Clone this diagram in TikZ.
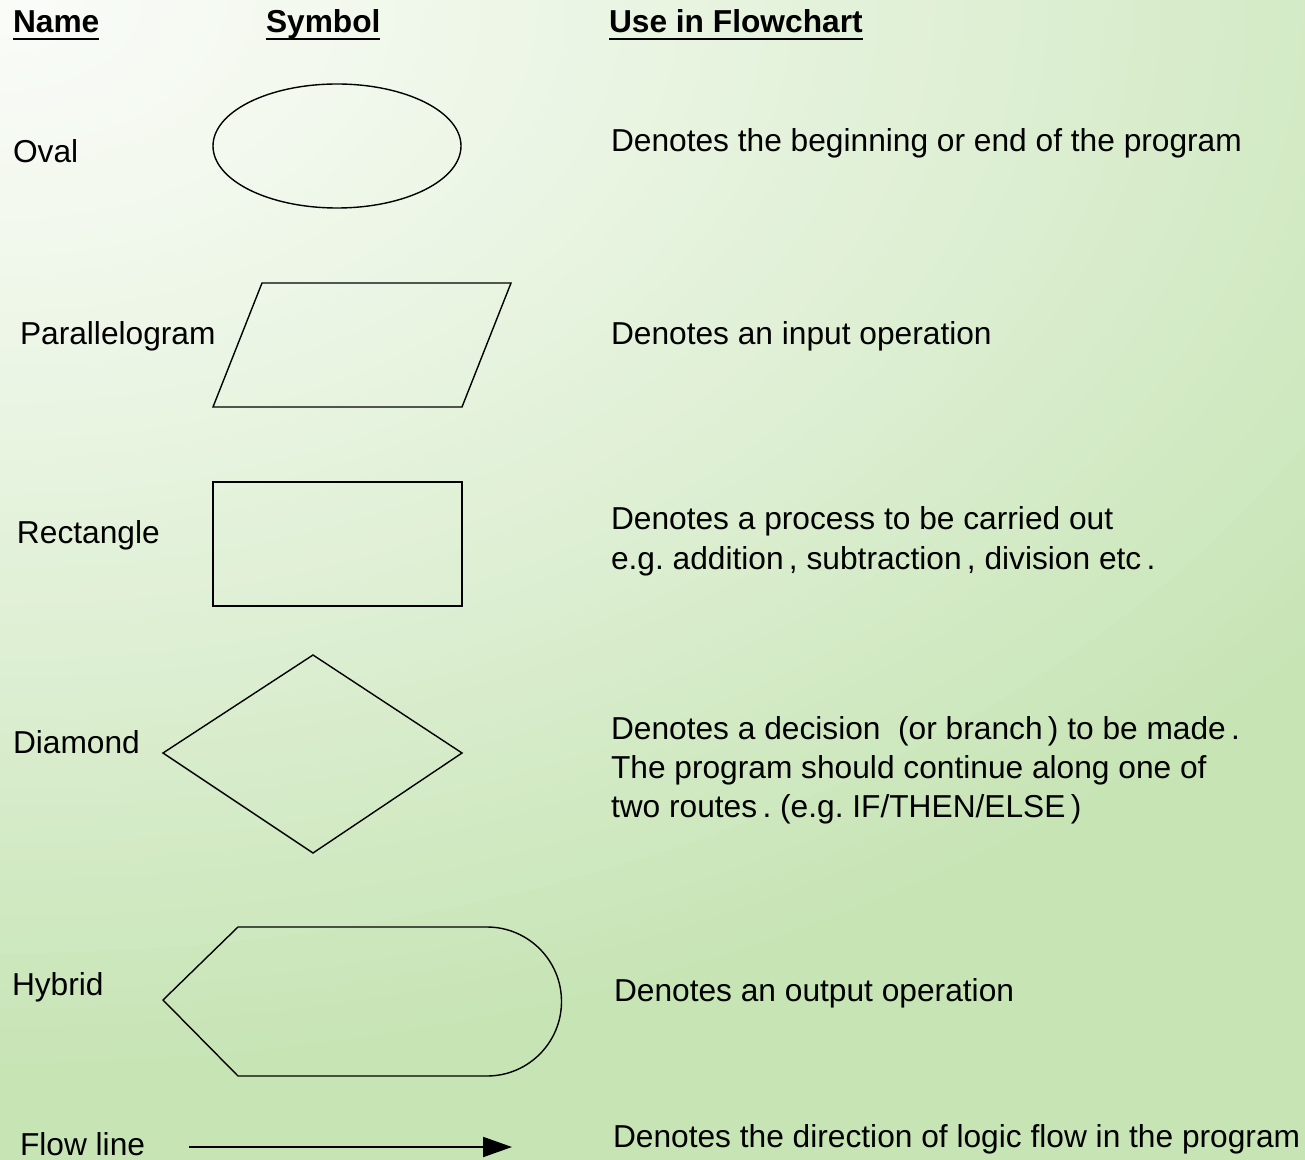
\documentclass[tikz,border=0pt]{standalone}
\usepackage{fontspec}
\setmainfont{Liberation Sans}
\usetikzlibrary{arrows.meta}

% background glow: light corner to full green
\definecolor{bgA}{HTML}{FAFCF8}
\definecolor{bgD}{HTML}{C6E4B4}

% underlined heading with the rule at a fixed depth
\newcommand\headline[1]{\setbox0\hbox{#1}\rlap{\rule[-3.6pt]{\wd0}{1.3pt}}\box0}

\tikzset{
  txt/.style={anchor=base west, inner sep=0pt, outer sep=0pt,
              font=\fontsize{15.85}{19.5}\selectfont},
  hdr/.style={txt, font=\fontsize{15.85}{19.5}\selectfont\bfseries},
  sym/.style={draw=black, line width=0.7pt},
  flowarrow/.style={line width=1pt, -{Triangle[length=14.5pt,width=10pt]}}
}

\begin{document}
\frenchspacing
\begin{tikzpicture}[x=0.5pt, y=-0.5pt]
  \useasboundingbox (0,0) rectangle (1305,1160);

  % background: stacked ellipses around the top-left corner
  \fill[bgD] (0,0) rectangle (1305,1160);
  \begin{scope}
    \clip (0,0) rectangle (1305,1160);
    \foreach \k in {60,59,...,1}{
      \pgfmathsetmacro\f{\k/60}
      \pgfmathsetmacro\p{100*(\f)^1.2}
      \fill[bgD!\p!bgA] (0,0) ellipse [x radius={1700*\f}, y radius={1100*\f}];
    }
  \end{scope}

  % column headings
  \node[hdr] (hName)   at (13,33)  {\headline{Name}};
  \node[hdr] (hSymbol) at (266,33) {\headline{Symbol}};
  \node[hdr] (hUse)    at (609,33) {\headline{Use in Flowchart}};

  % names
  \node[txt] (nOval)  at (13,163)   {Oval};
  \node[txt] (nPara)  at (20,344)   {Parallelogram};
  \node[txt] (nRect)  at (17,543)   {Rectangle};
  \node[txt] (nDiam)  at (13,753)   {Diamond};
  \node[txt] (nHyb)   at (12,995)   {Hybrid};
  \node[txt] (nFlow)  at (20,1155)  {Flow line};

  % symbols
  \draw[sym] (337,146) ellipse [x radius=124, y radius=62];
  \draw[sym] (262,283) -- (511,283) -- (462,407) -- (213,407) -- cycle;
  \draw[sym] (213,482) rectangle (462,606);
  \draw[sym] (313,655) -- (462,753) -- (313,853) -- (163,753) -- cycle;
  \draw[sym] (163,1000) -- (238,927) -- (487,927)
             arc[start angle=-90, end angle=90, radius=74.5]
             -- (238,1076) -- cycle;
  \coordinate (flowA) at (189,1147);
  \coordinate (flowB) at (512,1147);
  \draw[flowarrow] (flowA) -- (flowB);

  % uses
  \node[txt] (uOval)  at (611,152)  {Denotes the beginning or end of the program};
  \node[txt] (uPara)  at (611,344)  {Denotes an input operation};
  \node[txt] (uRectA) at (611,529)  {Denotes a process to be carried out};
  \node[txt] (uRectB) at (611,569)  {e.g. addition\,, subtraction\,, division etc\,.};
  \node[txt] (uDiamA) at (611,739)  {Denotes a decision \ (or branch\,) to be made\,.};
  \node[txt] (uDiamB) at (611,778)  {The program should continue along one of};
  \node[txt] (uDiamC) at (611,817)  {two routes\,. (e.g. IF/THEN/ELSE\,)};
  \node[txt] (uHyb)   at (614,1001) {Denotes an output operation};
  \node[txt] (uFlow)  at (613,1147) {Denotes the direction of logic flow in the program};
\end{tikzpicture}
\end{document}
